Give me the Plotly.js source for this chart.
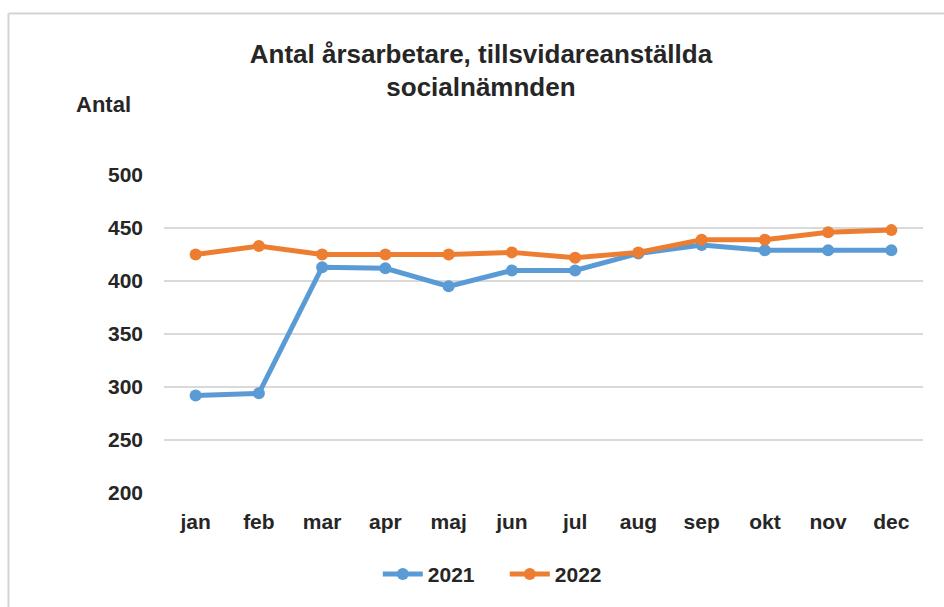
<!DOCTYPE html>
<html>
<head>
<meta charset="utf-8">
<script src="https://cdn.plot.ly/plotly-3.0.1.min.js"></script>
<style>
  html, body { margin: 0; padding: 0; background: #fff; }
  #chart { width: 944px; height: 607px; }
</style>
</head>
<body>
<div id="chart"></div>
<script>
const months = ["jan","feb","mar","apr","maj","jun","jul","aug","sep","okt","nov","dec"];
const values2021 = [292, 294, 413, 412, 395, 410, 410, 426, 434, 429, 429, 429];
const values2022 = [425, 433, 425, 425, 425, 427, 422, 427, 439, 439, 446, 448];
const seriesNames = ["2021", "2022"];
const yTicks = [200, 250, 300, 350, 400, 450, 500];

const FONT = "Liberation Sans, Arial, sans-serif";
const TXT = "#262626";

const traces = [
  { x: months, y: values2021, name: seriesNames[0], type: "scatter", mode: "lines+markers",
    line: { color: "#5B9BD5", width: 5 }, marker: { color: "#5B9BD5", size: 12 } },
  { x: months, y: values2022, name: seriesNames[1], type: "scatter", mode: "lines+markers",
    line: { color: "#ED7D31", width: 5 }, marker: { color: "#ED7D31", size: 12 } }
];

const layout = {
  width: 944, height: 607,
  margin: { l: 164, r: 21, t: 175, b: 112 },
  paper_bgcolor: "#fff", plot_bgcolor: "#fff",
  font: { family: FONT, size: 21, color: TXT },
  title: {
    text: "<b>Antal årsarbetare, tillsvidareanställda<br>socialnämnden</b>",
    font: { family: FONT, size: 26, color: TXT },
    xref: "container", yref: "container", x: 0.5095, y: 0.897,
    xanchor: "center", yanchor: "middle"
  },
  xaxis: {
    type: "category", range: [-0.5, 11.5], showgrid: false, zeroline: false,
    showline: false, ticks: "", ticklabelstandoff: 14,
    tickfont: { family: FONT, size: 21, color: TXT, weight: "bold" }
  },
  yaxis: {
    range: [200, 500], tickvals: yTicks, ticktext: yTicks.map(String),
    showgrid: true, gridcolor: "#d9d9d9", gridwidth: 1.5, zeroline: false,
    showline: false, ticks: "", ticklabelstandoff: 20,
    tickfont: { family: FONT, size: 21, color: TXT, weight: "bold" }
  },
  showlegend: true,
  legend: {
    orientation: "h", x: 0.449, xanchor: "center", y: -0.256, yanchor: "middle",
    font: { family: FONT, size: 21, color: TXT, weight: "bold" },
    traceorder: "normal", itemwidth: 40, entrywidth: 72, entrywidthmode: "pixels",
    bgcolor: "rgba(0,0,0,0)"
  },
  annotations: [
    { text: "<b>Antal</b>", xref: "paper", yref: "paper", x: -0.119, y: 1.222,
      xanchor: "left", yanchor: "middle", showarrow: false,
      font: { family: FONT, size: 22, color: TXT } }
  ],
  shapes: [
    { type: "line", xref: "paper", yref: "paper", x0: -0.2049, x1: 1.2, y0: 1.5078, y1: 1.5078,
      line: { color: "#d4d4d4", width: 2 }, layer: "below" },
    { type: "line", xref: "paper", yref: "paper", x0: -0.2049, x1: -0.2049, y0: 1.5078, y1: -0.5,
      line: { color: "#d4d4d4", width: 2 }, layer: "below" }
  ]
};

Plotly.newPlot("chart", traces, layout, { displayModeBar: false, staticPlot: true });
</script>
</body>
</html>
